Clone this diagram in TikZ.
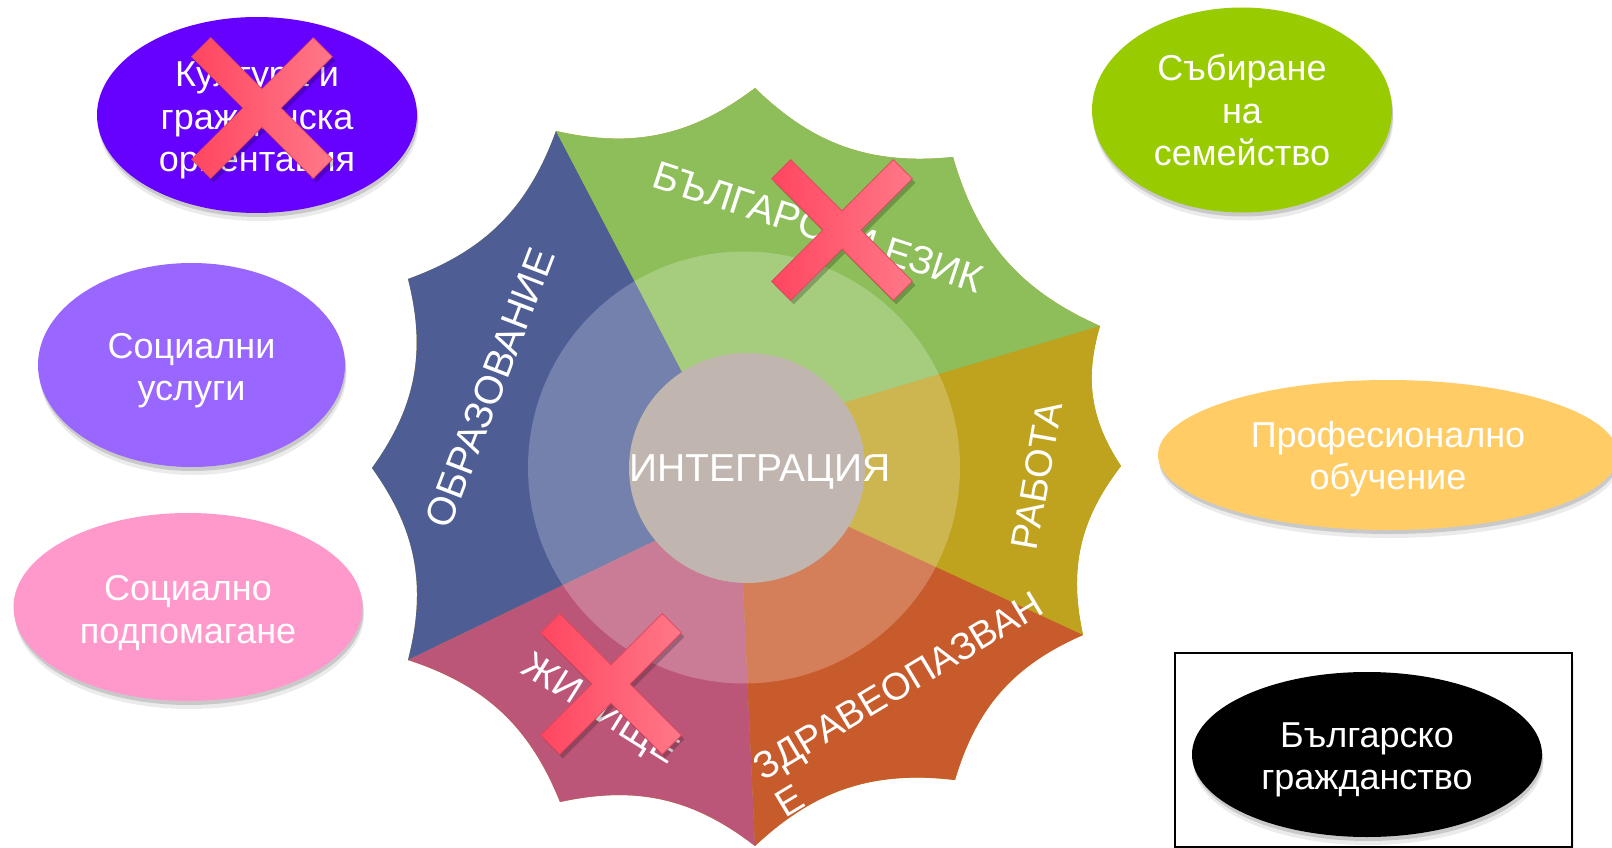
\documentclass[tikz,border=0pt]{standalone}
\usepackage{fontspec}
\setmainfont{Liberation Sans}
\usetikzlibrary{shapes.geometric,shadows}
\definecolor{cKult}{HTML}{6600FF}
\definecolor{cUsl}{HTML}{9966FF}
\definecolor{cPodp}{HTML}{FF99CC}
\definecolor{cSab}{HTML}{99CC00}
\definecolor{cProf}{HTML}{FFCC66}
\definecolor{sBlue}{HTML}{4E5E95}
\definecolor{sGreen}{HTML}{8DBE5A}
\definecolor{sGold}{HTML}{BFA21E}
\definecolor{sOrange}{HTML}{C85B2C}
\definecolor{sPink}{HTML}{BC5679}
\definecolor{sCore}{HTML}{C1B5AF}
\definecolor{xDark}{HTML}{FF4660}
\definecolor{xLight}{HTML}{FF7888}
\definecolor{xEdge}{HTML}{E0455C}
\newcommand{\toppad}[1]{\rule{0pt}{#1pt}}
\tikzset{
  ell/.style={ellipse, inner sep=0pt, text=white, align=center,
    font=\fontsize{36}{42.5}\selectfont},
  startext/.style={text=white, inner sep=0pt, font=\fontsize{38}{43}\selectfont},
  bigstartext/.style={startext, font=\fontsize{39.5}{44}\selectfont},
  softshadow/.style={
    general shadow={fill=black, opacity=0.08, shadow xshift=1.5pt, shadow yshift=-8pt},
    general shadow={fill=black, opacity=0.14, shadow xshift=1pt, shadow yshift=-4pt}},
  edgeb/.style={bend right=25},
  xmark/.pic={
    \path[left color=xDark, right color=xLight, draw=xEdge, line width=0.8pt]
      (86,13.5) -- (13.5,13.5) -- (13.5,86) -- (-13.5,86) -- (-13.5,13.5) --
      (-86,13.5) -- (-86,-13.5) -- (-13.5,-13.5) -- (-13.5,-86) -- (13.5,-86) --
      (13.5,-13.5) -- (86,-13.5) -- cycle;
  },
  xshadow/.pic={
    \fill[black, opacity=0.22]
      (86,13.5) -- (13.5,13.5) -- (13.5,86) -- (-13.5,86) -- (-13.5,13.5) --
      (-86,13.5) -- (-86,-13.5) -- (-13.5,-13.5) -- (-13.5,-86) -- (13.5,-86) --
      (13.5,-13.5) -- (86,-13.5) -- cycle;
  }
}
\begin{document}
\begin{tikzpicture}[x=1pt,y=-1pt]
\useasboundingbox (0,0) rectangle (1612,848);
\fill[white] (0,0) rectangle (1612,848);

% ---- ellipses ----
\node[ell, softshadow, fill=cKult, minimum width=320pt, minimum height=196pt] (kultura) at (257,115) {\toppad{36}Култура и\\гражданска\\ориентация};
\node[ell, softshadow, fill=cUsl, minimum width=307pt, minimum height=204pt] (uslugi) at (191.5,365) {\toppad{36}Социални\\услуги};
\node[ell, softshadow, fill=cPodp, minimum width=349pt, minimum height=188pt] (podpomagane) at (188,607) {\toppad{37}Социално\\подпомагане};
\node[ell, softshadow, fill=cSab, minimum width=300pt, minimum height=205pt] (sabirane) at (1242,110) {Събиране\\на\\семейство};
\node[ell, softshadow, fill=cProf, minimum width=460pt, minimum height=150pt] (obuchenie) at (1388,455) {\toppad{34}Професионално\\обучение};
\node[draw=black, line width=1.5pt, fill=white, softshadow, minimum width=397pt, minimum height=194pt] (ramka) at (1373.5,750) {};
\node[ell, softshadow, fill=black, minimum width=350pt, minimum height=165pt] (grazhdanstvo) at (1367,754.5) {\toppad{35}Българско\\гражданство};

% ---- star ----
\coordinate (V0) at (755,88);
\coordinate (V1) at (953,157);
\coordinate (V2) at (1100,326);
\coordinate (V3) at (1121,466);
\coordinate (V4) at (1083,635);
\coordinate (V5) at (955,780);
\coordinate (V6) at (755,846);
\coordinate (V7) at (560,802);
\coordinate (V8) at (408,660);
\coordinate (V9) at (372,468);
\coordinate (V10) at (408,279);
\coordinate (V11) at (556,131);
\coordinate (C) at (748,467);
\coordinate (B1) at (691,389);
\coordinate (B2) at (833,406);
\coordinate (B3) at (834,520);
\coordinate (B4) at (742,564);
\coordinate (B5) at (669,534);

\fill[sGold] (V0) to[edgeb] (V1) to[edgeb] (V2) to[edgeb] (V3) to[edgeb] (V4) to[edgeb] (V5) to[edgeb] (V6) to[edgeb] (V7) to[edgeb] (V8) to[edgeb] (V9) to[edgeb] (V10) to[edgeb] (V11) to[edgeb] (V0) -- cycle;
\fill[sBlue] (B5) -- (V8) to[edgeb] (V9) to[edgeb] (V10) to[edgeb] (V11) -- (B1) -- (C) -- cycle;
\fill[sGreen] (B1) -- (V11) to[edgeb] (V0) to[edgeb] (V1) to[edgeb] (V2) -- (B2) -- (C) -- cycle;
\fill[sGold] (B2) -- (V2) to[edgeb] (V3) to[edgeb] (V4) -- (B3) -- (C) -- cycle;
\fill[sOrange] (B3) -- (V4) to[edgeb] (V5) to[edgeb] (V6) -- (B4) -- (C) -- cycle;
\fill[sPink] (B4) -- (V6) to[edgeb] (V7) to[edgeb] (V8) -- (B5) -- (C) -- cycle;

\fill[white, opacity=0.22] (744,467.5) circle[radius=216pt];
\fill[sCore] (747,468) circle[x radius=118pt, y radius=115pt];

% ---- star labels ----
\node[bigstartext, rotate=69] (obrazovanie) at (490,388) {ОБРАЗОВАНИЕ};
\node[bigstartext, rotate=-18] (ezik) at (818,227) {БЪЛГАРСКИ ЕЗИК};
\node[startext, rotate=80] (rabota) at (1037,476) {РАБОТА};
\node[startext, rotate=31, align=left] (zdrave) at (909,704) {ЗДРАВЕОПАЗВАН\\Е};
\node[startext, rotate=-32] (zhilishte) at (599,711) {ЖИЛИЩЕ};
\node[startext, font=\fontsize{39}{44}\selectfont] (integraciya) at (760,472) {ИНТЕГРАЦИЯ};

% ---- crosses ----
\pic[rotate=45] at (265,112) {xshadow};
\pic[rotate=45] at (262,108) {xmark};
\pic[rotate=45] at (845,234) {xshadow};
\pic[rotate=45] at (842,230) {xmark};
\pic[rotate=45] at (614,688) {xshadow};
\pic[rotate=45] at (611,684) {xmark};
\end{tikzpicture}
\end{document}
